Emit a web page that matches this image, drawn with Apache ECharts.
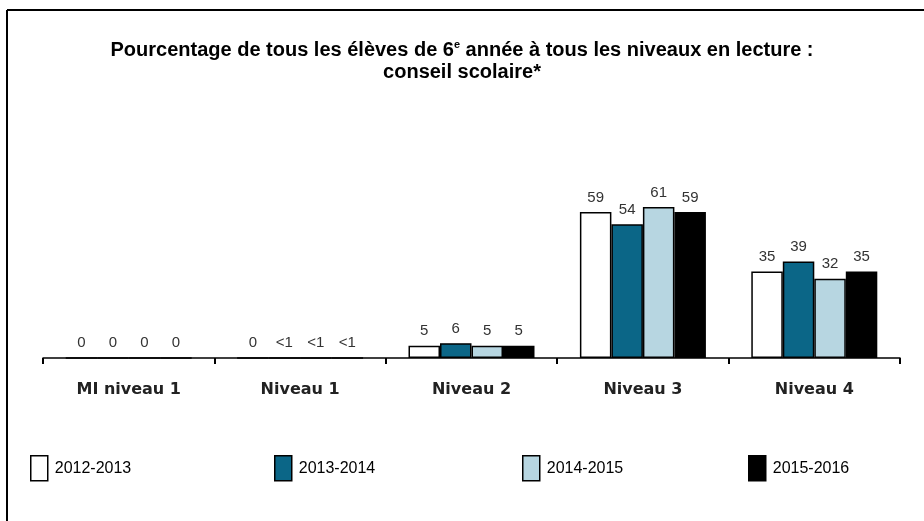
<!DOCTYPE html>
<html>
<head>
<meta charset="utf-8">
<title>Pourcentage de tous les élèves de 6e année</title>
<script src="https://cdn.jsdelivr.net/npm/echarts@6/dist/echarts.min.js"></script>
<style>
  html, body { margin: 0; padding: 0; background: #fff; }
  #chart { width: 924px; height: 521px; }
</style>
</head>
<body>
<div id="chart"></div>
<script>
// catégories (axe X)
var categories = ['MI niveau 1', 'Niveau 1', 'Niveau 2', 'Niveau 3', 'Niveau 4']
var years = ['2012-2013', '2013-2014', '2014-2015', '2015-2016']

// pourcentages par année (<1 => 0, étiquette à part)
var data1213 = [0, 0, 5, 59, 35]
var data1314 = [0, 0, 6, 54, 39]
var data1415 = [0, 0, 5, 61, 32]
var data1516 = [0, 0, 5, 59, 35]

// étiquettes affichées au-dessus des barres
var labels1213 = ['0', '0', '5', '59', '35']
var labels1314 = ['0', '<1', '6', '54', '39']
var labels1415 = ['0', '<1', '5', '61', '32']
var labels1516 = ['0', '<1', '5', '59', '35']

var colors = ['#ffffff', '#0b6687', '#b7d6e1', '#000000']
var fontArial = '"Liberation Sans", Arial, sans-serif'

var chart = echarts.init(document.getElementById('chart'))

function makeSeries(name, values, labels, color) {
  return {
    name: name,
    type: 'bar',
    data: values,
    barWidth: 31.5,
    barGap: '0%',
    itemStyle: {
      color: color,
      borderColor: '#000',
      borderWidth: 1.5
    },
    label: {
      show: true,
      position: 'top',
      distance: 7,
      color: '#333',
      fontSize: 15,
      fontFamily: fontArial,
      formatter: function (p) {
        return labels[p.dataIndex]
      }
    },
    animation: false
  }
}

// une légende par année pour les placer comme dans l'original
var legendLeft = [25, 269, 517, 743]
var legends = years.map(function (y, i) {
  return {
    data: [y],
    left: legendLeft[i],
    top: 450,
    itemWidth: 17,
    itemHeight: 25,
    itemGap: 6,
    icon: 'rect',
    itemStyle: { borderColor: '#000', borderWidth: 1.5 },
    textStyle: {
      fontFamily: fontArial,
      fontSize: 16,
      color: '#000',
      padding: [3, 0, 0, 2]
    }
  }
})

chart.setOption({
  title: {
    text: 'Pourcentage de tous les élèves de 6{sup|e} année à tous les niveaux en lecture :\nconseil scolaire*',
    left: 'center',
    top: 34,
    textStyle: {
      fontFamily: fontArial,
      fontSize: 20,
      fontWeight: 'bold',
      color: '#000',
      lineHeight: 22,
      rich: {
        sup: {
          fontSize: 11,
          fontWeight: 'bold',
          color: '#000',
          verticalAlign: 'top',
          padding: [0, 0, 8, 0],
          fontFamily: fontArial
        }
      }
    }
  },
  legend: legends,
  grid: {
    left: 43,
    right: 24,
    top: 160,
    bottom: 163
  },
  xAxis: {
    type: 'category',
    data: categories,
    axisLine: { lineStyle: { color: '#000', width: 1.5 } },
    axisTick: { show: true, length: 6, lineStyle: { color: '#000', width: 2 } },
    axisLabel: {
      margin: 24,
      color: '#222',
      fontSize: 16,
      fontWeight: 'bold',
      fontFamily: '"DejaVu Sans", Verdana, sans-serif'
    }
  },
  yAxis: {
    type: 'value',
    min: 0,
    max: 80,
    show: false
  },
  color: colors,
  graphic: [
    { type: 'line', shape: { x1: 7, y1: 10, x2: 924, y2: 10 }, style: { stroke: '#000', lineWidth: 2 } },
    { type: 'line', shape: { x1: 7, y1: 10, x2: 7, y2: 521 }, style: { stroke: '#000', lineWidth: 2 } }
  ],
  series: [
    makeSeries(years[0], data1213, labels1213, colors[0]),
    makeSeries(years[1], data1314, labels1314, colors[1]),
    makeSeries(years[2], data1415, labels1415, colors[2]),
    makeSeries(years[3], data1516, labels1516, colors[3])
  ]
})
</script>
</body>
</html>
